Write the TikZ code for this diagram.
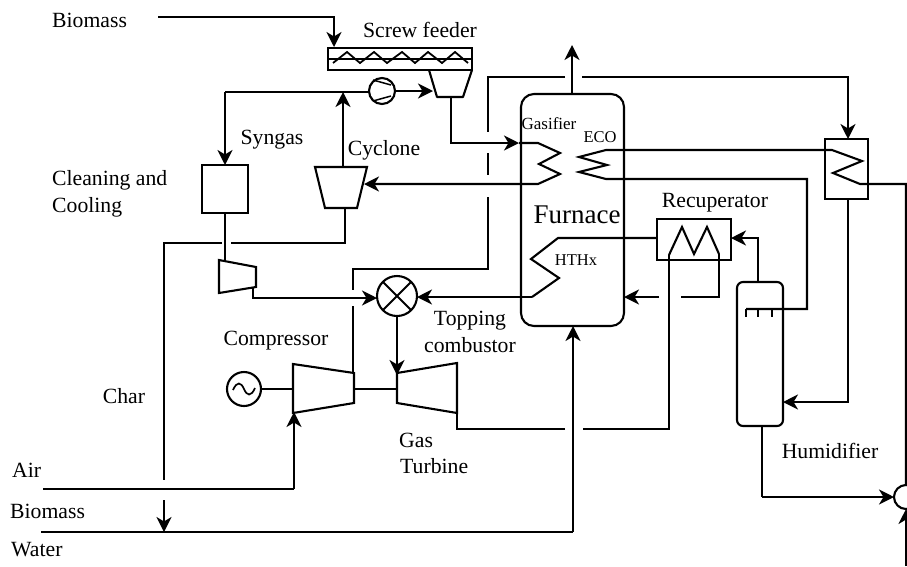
\documentclass[tikz,border=0pt]{standalone}
\usepackage{fontspec}
\setmainfont{Liberation Serif}
\usetikzlibrary{arrows.meta,calc}
\tikzset{
  x=1pt,y=-1pt,
  flow/.style={line width=2.1pt,line join=miter},
  arr/.style={flow,-{Stealth[length=15pt,width=15pt,inset=4.5pt]}},
  box/.style={draw,line width=2.1pt,inner sep=0pt,outer sep=0pt},
  roundbox/.style={box,rounded corners=#1},
  ring/.style={draw,circle,line width=2.1pt,inner sep=0pt,outer sep=0pt},
  lab/.style={anchor=base,inner sep=0pt,font=\fontsize{21.7}{21.7}\selectfont},
  labw/.style={anchor=base west,inner sep=0pt,font=\fontsize{21.7}{21.7}\selectfont},
  small/.style={anchor=base,inner sep=0pt,font=\fontsize{16.5}{16.5}\selectfont},
}
\begin{document}
\begin{tikzpicture}
\useasboundingbox (0,0) rectangle (907,566);
\clip (0,0) rectangle (907,566);
\fill[white] (0,0) rectangle (907,566);

% labels
\node[labw] (tBiomassTop) at (52,27) {Biomass};
\node[lab] (tScrew) at (420,37) {Screw feeder};
\node[lab] (tSyngas) at (272,144) {Syngas};
\node[lab] (tCyclone) at (384,155) {Cyclone};
\node[labw] (tCleaning) at (52,185) {Cleaning and};
\node[labw] (tCooling) at (52,212) {Cooling};
\node[small,font=\fontsize{17}{17}\selectfont] (tGasifier) at (549,129) {Gasifier};
\node[small] (tECO) at (600,142) {ECO};
\node[lab,font=\fontsize{27}{27}\selectfont] (tFurnace) at (577,223) {Furnace};
\node[lab] (tRecup) at (715,207) {Recuperator};
\node[small] (tHTHx) at (576,265) {HTHx};
\node[lab] (tCompressor) at (276,345) {Compressor};
\node[lab] (tTopping) at (470,325) {Topping};
\node[lab] (tCombustor) at (470,352) {combustor};
\node[lab] (tChar) at (124,403) {Char};
\node[labw] (tGas) at (399,447) {Gas};
\node[labw] (tTurbine) at (400,473) {Turbine};
\node[lab] (tHumid) at (830,458) {Humidifier};
\node[labw] (tAir) at (12,477) {Air};
\node[labw] (tBiomassLow) at (10,518) {Biomass};
\node[labw] (tWater) at (11,556) {Water};

% equipment
\node[box,minimum width=144pt,minimum height=22pt] (feeder) at (400,59) {};
\node[ring,minimum size=26pt] (pump) at (382,91) {};
\node[box,minimum width=46pt,minimum height=48pt] (clean) at (225,189) {};
\node[roundbox=13pt,minimum width=103pt,minimum height=232pt] (furnace) at (572.5,210) {};
\node[box,minimum width=74pt,minimum height=41pt] (recup) at (694,239.5) {};
\node[box,minimum width=43pt,minimum height=60pt] (eco) at (846.5,169) {};
\node[roundbox=6pt,minimum width=46pt,minimum height=144pt] (humid) at (760,354) {};
\node[ring,minimum size=40pt] (comb) at (397,296) {};
\node[ring,minimum size=34pt] (gen) at (244,389) {};
\node[ring,minimum size=24pt] (mix) at (906,497) {};

% trapezoids
\draw[flow,line join=round] (429,70) coordinate (hopTL) -- (437,97) coordinate (hopBL) -- (463,97) coordinate (hopBR) -- (472,70) coordinate (hopTR);
\draw[flow] (315,167) coordinate (cycTL) -- (325,208) coordinate (cycBL) -- (357,208) coordinate (cycBR) -- (367,167) coordinate (cycTR) -- cycle;
\draw[flow] (219,260) coordinate (expTL) -- (256,267) coordinate (expTR) -- (256,287) coordinate (expBR) -- (219,293) coordinate (expBL) -- cycle;
\draw[flow] (293,364) coordinate (cmpTL) -- (354,373) coordinate (cmpTR) -- (354,403) coordinate (cmpBR) -- (293,413) coordinate (cmpBL) -- cycle;
\draw[flow] (397,373) coordinate (turTL) -- (457,363) coordinate (turTR) -- (457,413) coordinate (turBR) -- (397,403) coordinate (turBL) -- cycle;

% way points
\coordinate (bioA) at (158,17); \coordinate (bioB) at (334,17); \coordinate (bioC) at (334,47);
\coordinate (pumpIn) at (343,92); \coordinate (synL) at (225,92);
\coordinate (hopOut) at (451,97); \coordinate (hopD) at (451,143);
\coordinate (furnIn) at (519,143);
\coordinate (stackA) at (572,94); \coordinate (stackB) at (572,45);
\coordinate (cycTop) at (343,167); \coordinate (cycBot) at (345,208); \coordinate (cycC) at (345,243);
\coordinate (cycG1) at (231,243); \coordinate (cycG2) at (222,243); \coordinate (charA) at (164,243);
\coordinate (charB) at (164,480); \coordinate (charC) at (164,500); \coordinate (charD) at (164,532);
\coordinate (airA) at (43,489); \coordinate (airB) at (294,489); \coordinate (airC) at (294,412);
\coordinate (watA) at (41,532); \coordinate (watB) at (573,532); \coordinate (watC) at (573,326);
\coordinate (cycIn) at (364,184);
\coordinate (expTop) at (225,261); \coordinate (expOut) at (253,287); \coordinate (expD) at (253,298);
\coordinate (airHotA) at (848,77); \coordinate (airHotG2) at (582,77); \coordinate (airHotG1) at (565,77);
\coordinate (dashT) at (488,77); \coordinate (dashA) at (488,132); \coordinate (dashB) at (488,153);
\coordinate (dashC) at (488,175); \coordinate (dashD) at (488,197); \coordinate (dashE) at (488,269);
\coordinate (cmpAirA) at (353,269); \coordinate (cmpAirB) at (353,290); \coordinate (cmpAirC) at (353,306); \coordinate (cmpAirD) at (353,374);
\coordinate (exhA) at (457,429); \coordinate (exhB) at (565,429); \coordinate (exhC) at (583,429); \coordinate (exhD) at (669,429);
\coordinate (recL) at (669,255); \coordinate (recR) at (719,254);
\coordinate (recD) at (719,297); \coordinate (recE) at (681,297); \coordinate (recF) at (659,297);
\coordinate (humOut) at (758,282); \coordinate (humUp) at (758,238);
\coordinate (ecoOut) at (807,179); \coordinate (ecoD) at (807,309); \coordinate (spray) at (746,309);
\coordinate (ecoBotA) at (848,199); \coordinate (ecoBotB) at (848,402);
\coordinate (humBotA) at (762,426); \coordinate (humBotB) at (762,497);
\coordinate (rightA) at (906,184); \coordinate (mixBot) at (906,566);

% biomass feed and screw
\draw[arr] (bioA) -- (bioB) -- (bioC);
\draw[flow] (feeder.west) -- (feeder.east);
\draw[line width=1.8pt] (333,63) -- (347,52) -- (360,63) -- (374,52) -- (387,63) -- (402,52) -- (415,63) -- (428,52) -- (442,63) -- (455,52) -- (468,63);

% pump
\draw[line width=1.5pt] (373,80) -- (391,85) (373,101) -- (391,96);
\draw[arr] (pump.east) -- (433,91);
\draw[flow] (pump.west |- pumpIn) -- (synL);
\draw[arr] (synL) -- (clean.north);
\draw[arr] (cycTop) -- (pumpIn);

% gasifier coil
\draw[arr] (hopOut) -- (hopD) -- (furnIn);
\draw[arr] (furnIn) -- (538,143) -- (560,153) -- (539,164) -- (560,174) -- (538,184) -- (cycIn);
\draw[arr] (stackA) -- (stackB);

% dashed air line
\draw[arr] (airHotG2) -- (airHotA) -- (airHotA |- eco.north);
\draw[flow] (airHotG1) -- (dashT) -- (dashA);
\draw[flow] (dashB) -- (dashC);
\draw[flow] (dashD) -- (dashE) -- (cmpAirA) -- (cmpAirB);
\draw[flow] (cmpAirC) -- (cmpAirD);

% cyclone bottoms and char
\draw[flow] (cycBot) -- (cycC) -- (cycG1);
\draw[flow] (cycG2) -- (charA) -- (charB);
\draw[arr] (charC) -- (charD);
\draw[flow] (clean.south) -- (expTop);

% expander and combustor
\draw[arr] (expOut) -- (expD) -- (comb.west |- expD);
\draw[flow] (comb.45) -- (comb.225) (comb.135) -- (comb.315);
\draw[arr] (comb.south) -- (397,375);
\draw[arr] (532,297) -- (comb.east |- 0,297);

% HTHx coil
\draw[flow] (532,297) -- (559,278) -- (531,259) -- (558,238) -- (recup.west |- 0,238);
% recuperator
\draw[flow] (recL) -- (682,227) -- (694,254) -- (707,227) -- (recR);
\draw[flow] (recL) -- (exhD) -- (exhC);
\draw[flow] (exhB) -- (exhA) -- (turBR);
\draw[flow] (recR) -- (recD) -- (recE);
\draw[arr] (recF) -- (furnace.east |- recF);
\draw[arr] (humOut) -- (humUp) -- (recup.east |- humUp);

% ECO coil
\draw[flow] (eco.west |- 0,150) -- (606,150) -- (579,157) -- (607,165) -- (579,172) -- (606,179) -- (ecoOut) -- (ecoD) -- (spray);
\draw[flow] (eco.west |- 0,150) -- (832,150) -- (862,161) -- (833,173) -- (860,184) -- (rightA) -- (mix.north);
\draw[line width=1.8pt] (spray) -- (746,317) (758,309) -- (758,317) (772,309) -- (772,317);

% humidifier
\draw[arr] (ecoBotA) -- (ecoBotB) -- (humid.east |- ecoBotB);
\draw[flow] (humBotA) -- (humBotB);
\draw[arr] (humBotB) -- (mix.west);
\draw[arr] (mixBot) -- (mix.south);

% turbine set
\draw[flow] (gen.east) -- (293,389);
\draw[flow] (354,389) -- (397,389);
\draw[line width=1.7pt] (233,390) .. controls (237,381) and (241,382) .. (244,389) .. controls (247,396) and (251,397) .. (255,388);
\draw[flow] (airA) -- (airB);
\draw[arr] (airB) -- (airC);
\draw[flow] (watA) -- (watB);
\draw[arr] (watB) -- (watC);
\end{tikzpicture}
\end{document}
